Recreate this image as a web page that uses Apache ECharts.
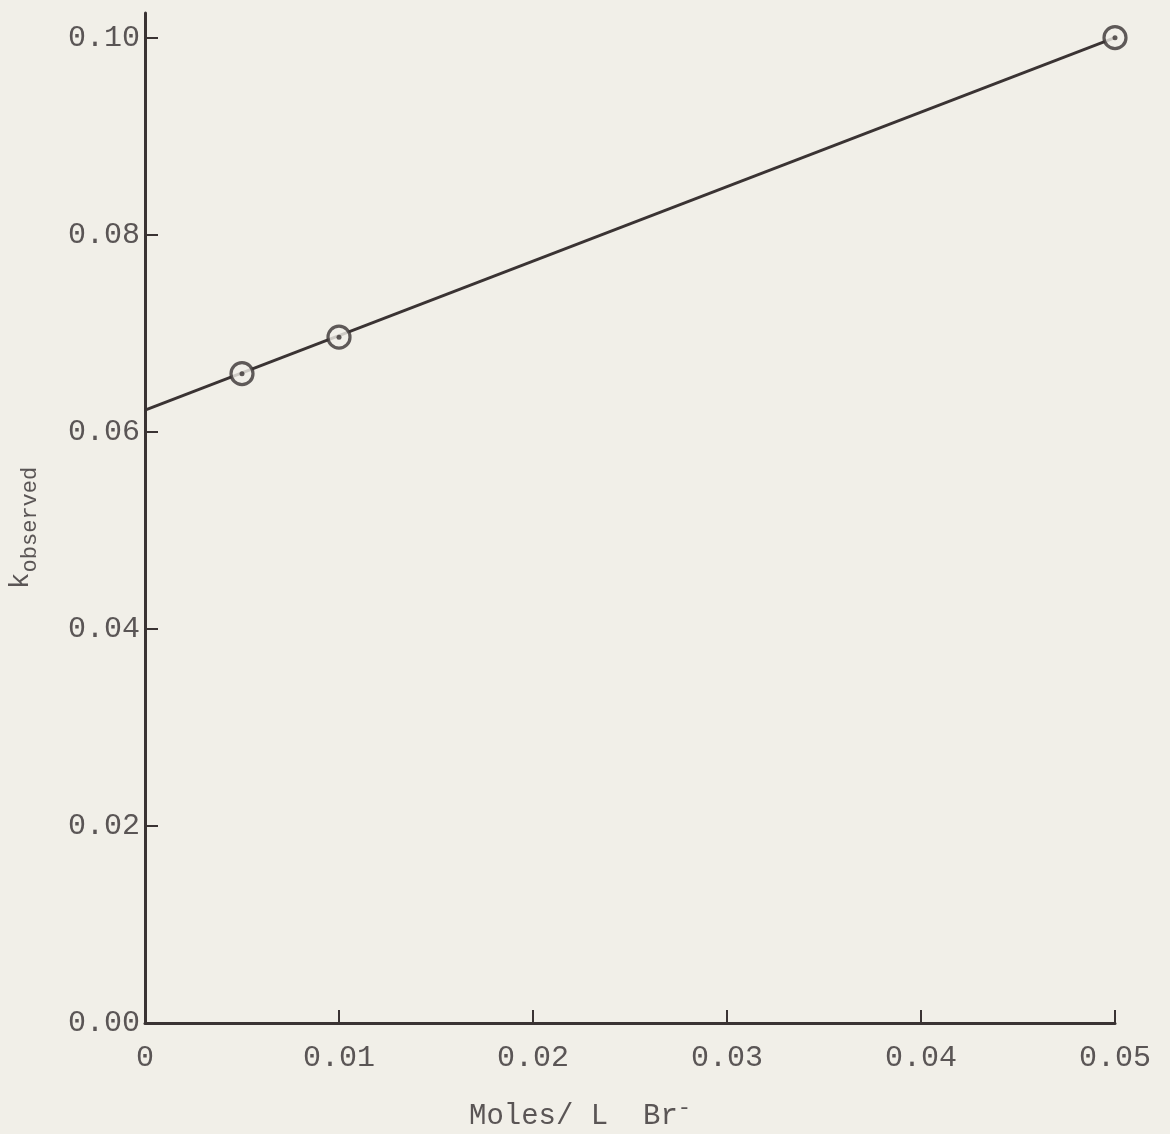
<!DOCTYPE html>
<html lang="en">
<head>
    <meta charset="UTF-8">
    <title>k observed vs Br-</title>
    <script src="https://cdn.jsdelivr.net/npm/echarts@6/dist/echarts.min.js"></script>
    <style>
        html, body { margin: 0; padding: 0; background: #f1efe8; }
    </style>
</head>
<body>
<div id="main" style="width: 1170px;height:1134px;"></div>
<script>
var bromide = [0.005, 0.01, 0.05];
var kObserved = [0.0659, 0.0696, 0.1000];
// drawn straight line
var fitX = [0, 0.05];
var fitY = [0.0622, 0.1000];
// tick values
var xTicks = [0, 0.01, 0.02, 0.03, 0.04, 0.05];
var yTicks = [0, 0.02, 0.04, 0.06, 0.08, 0.10];

var ink = '#3a3333';
var textInk = '#5a5555';
var font = '"Liberation Mono", "DejaVu Sans Mono", monospace';

var points = bromide.map(function (x, i) { return [x, kObserved[i]]; });
var fitLine = fitX.map(function (x, i) { return [x, fitY[i]]; });

var myChart = echarts.init(document.getElementById('main'));

var option = {
    backgroundColor: '#f1efe8',
    animation: false,
    grid: { left: 145, right: 55, top: 13, bottom: 111, containLabel: false, outerBoundsMode: 'none' },
    xAxis: {
        type: 'value',
        min: 0,
        max: 0.05,
        interval: 0.01,
        splitLine: { show: false },
        axisLine: { lineStyle: { color: ink, width: 3 } },
        axisTick: { show: true, inside: true, length: 13, customValues: xTicks.slice(1), lineStyle: { color: ink, width: 2 } },
        axisLabel: {
            customValues: xTicks,
            margin: 20,
            color: textInk,
            fontFamily: font,
            fontSize: 30,
            formatter: function (v) { return v === 0 ? '0' : v.toFixed(2); }
        },
        name: '{t|Moles/ L  Br}{sup|-}',
        nameLocation: 'middle',
        nameGap: 74,
        nameTextStyle: {
            padding: [0, 100, 0, 0],
            rich: {
                t: { fontFamily: font, fontSize: 29, color: textInk },
                sup: { fontFamily: font, fontSize: 22, color: textInk, padding: [0, 0, 16, 0] }
            }
        }
    },
    yAxis: {
        type: 'value',
        min: 0,
        max: 0.1025,
        splitLine: { show: false },
        axisLine: { lineStyle: { color: ink, width: 3 } },
        axisTick: { show: true, inside: true, length: 13, customValues: yTicks.slice(1), lineStyle: { color: ink, width: 2 } },
        axisLabel: {
            customValues: yTicks,
            margin: 5,
            color: textInk,
            fontFamily: font,
            fontSize: 30,
            formatter: function (v) { return v.toFixed(2); }
        },
        name: '{k|k}{sub|observed}',
        nameLocation: 'middle',
        nameRotate: 90,
        nameGap: 104,
        nameTextStyle: {
            padding: [0, 20, 0, 0],
            rich: {
                k: { fontFamily: font, fontSize: 28, color: textInk },
                sub: { fontFamily: font, fontSize: 22, color: textInk, padding: [18, 0, 0, 0] }
            }
        }
    },
    series: [{
        type: 'line',
        data: fitLine,
        symbol: 'none',
        lineStyle: { color: ink, width: 2.8 },
        z: 1
    }, {
        type: 'scatter',
        data: points,
        symbol: 'circle',
        symbolSize: 22,
        itemStyle: { color: '#f1efe8', borderColor: ink, borderWidth: 3.2 },
        z: 2
    }, {
        type: 'scatter',
        data: points,
        symbol: 'circle',
        symbolSize: 5,
        itemStyle: { color: ink },
        z: 3
    }]
};

myChart.setOption(option);
</script>
</body>
</html>
